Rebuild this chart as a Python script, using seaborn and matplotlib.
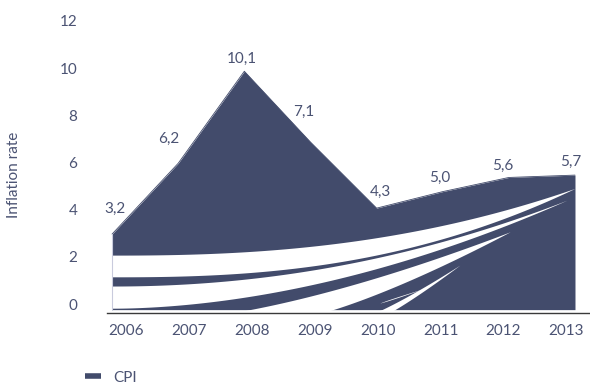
import numpy as np
import pandas as pd
import matplotlib
matplotlib.use("Agg")
import matplotlib.pyplot as plt
from matplotlib.lines import Line2D
from matplotlib.transforms import ScaledTranslation
import seaborn as sns

# Consumer price inflation, annual rate (%)
years = [2006, 2007, 2008, 2009, 2010, 2011, 2012, 2013]
cpi = [3.2, 6.2, 10.1, 7.1, 4.3, 5.0, 5.6, 5.7]
value_labels = ["3,2", "6,2", "10,1", "7,1", "4,3", "5,0", "5,6", "5,7"]
y_ticks = [0, 2, 4, 6, 8, 10, 12]
series_name = "CPI"
y_title = "Inflation rate"

AREA = "#424b6b"
TEXT = "#4b5373"
FS = 11

sns.set_theme(style="white")
plt.rcParams["font.family"] = ["Lato", "DejaVu Sans"]
plt.rcParams["font.size"] = FS

df = pd.DataFrame({"year": years, "cpi": cpi})

fig = plt.figure(figsize=(5.9, 3.85), dpi=100)
ax = fig.add_axes([0.1814, 0.1878, 0.8186, 0.762])

# filled area under the CPI line
sns.lineplot(data=df, x="year", y="cpi", ax=ax, color=AREA, linewidth=0.6,
             legend=False, zorder=2)
ax.fill_between(df["year"], 0, df["cpi"], color=AREA, linewidth=0, zorder=2)


# decorative white swooshes across the lower part of the area
def curve(x, x0, y0, x1, y1, p):
    s = np.clip((x - x0) / (x1 - x0), 0, 1)
    return y0 + (y1 - y0) * s ** p


def swoosh(upper, lower):
    x0 = min(upper[0], lower[0])
    x1 = upper[2]
    x = np.linspace(x0, x1, 400)
    yu = curve(x, *upper)
    yl = np.where(x < lower[0], -1.0, curve(x, *lower))
    yl = np.minimum(yl, yu)
    ax.fill_between(x, yl, yu, color="white", linewidth=0, zorder=3)


base = -0.4
swoosh((2006.0, 2.31, 2013.0, 5.14, 2.4), (2006.0, 1.39, 2013.0, 5.14, 2.5))
swoosh((2006.0, 1.00, 2012.88, 4.64, 2.05), (2006.0, 0.06, 2012.88, 4.64, 1.85))
swoosh((2007.0, base, 2012.02, 3.30, 1.45), (2008.75, base, 2012.02, 3.30, 1.3))
swoosh((2009.72, base, 2011.26, 1.89, 1.2), (2010.0, base, 2011.26, 1.89, 1.15))
swoosh((2010.05, 0.28, 2010.70, 0.88, 0.92), (2010.05, 0.28, 2010.70, 0.88, 1.08))

# thin outline of the left edge of the area
ax.plot([2006, 2006], [0, cpi[0]], color="#c9cbdd", linewidth=0.8, zorder=4)

# value labels
offsets = [(3, 25), (-9, 24), (-2, 12), (-7, 30), (4, 16), (-3, 14), (-6, 12), (-4, 13)]
for x, y, lab, (dx, dy) in zip(years, cpi, value_labels, offsets):
    ax.annotate(lab, (x, y), xytext=(dx, dy), textcoords="offset pixels",
                ha="center", va="center", color=TEXT, fontsize=FS, zorder=5)

ax.set_xlim(2005.924, 2013.227)
ax.set_ylim(-0.13, 12.3)

tick_pos = np.linspace(2006.21, 2012.87, len(years))
ax.set_xticks(tick_pos, [str(y) for y in years])
ax.set_yticks(y_ticks, [str(v) for v in y_ticks])
ax.tick_params(axis="x", length=0, pad=8, colors=TEXT, labelsize=FS)
ax.tick_params(axis="y", length=0, pad=21.5, colors=TEXT, labelsize=FS)
for lab in ax.get_yticklabels():
    lab.set_transform(lab.get_transform() + ScaledTranslation(0, 5.6 / 100, fig.dpi_scale_trans))

ax.set_xlabel("")
ax.set_ylabel(y_title, color=TEXT, fontsize=FS)
ax.yaxis.set_label_coords(-0.178, 0.47)

for side in ["top", "right", "left"]:
    ax.spines[side].set_visible(False)
ax.spines["bottom"].set_color("#3a3a3a")
ax.spines["bottom"].set_linewidth(1.0)
ax.spines["bottom"].set_zorder(6)
ax.grid(False)

handle = Line2D([], [], color=AREA, linewidth=4, solid_capstyle="butt")
fig.legend([handle], [series_name], loc="center left",
           bbox_to_anchor=(0.144, 0.019), frameon=False,
           handlelength=1.05, handletextpad=0.8, labelcolor=TEXT, fontsize=FS,
           borderaxespad=0, borderpad=0)

fig.savefig("out.png", dpi=100)
